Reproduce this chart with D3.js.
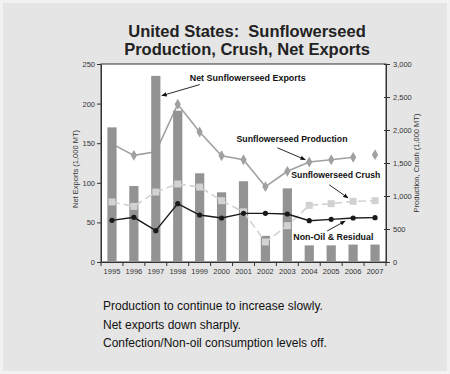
<!DOCTYPE html>
<html>
<head>
<meta charset="utf-8">
<script src="https://cdn.jsdelivr.net/npm/d3@7"></script>
<style>
  html, body { margin: 0; padding: 0; background: #f2f2f2; }
  svg { display: block; }
</style>
</head>
<body>
<svg id="chart" width="450" height="374"></svg>
<script>
// U.S. sunflowerseed balance, 1995–2007
const years = [1995, 1996, 1997, 1998, 1999, 2000, 2001, 2002, 2003, 2004, 2005, 2006, 2007];
// Net exports, 1,000 MT (left axis)
const netExports = [170, 96, 235, 191, 112, 88, 102, 33, 93, 21, 21, 22, 22];
// Production, 1,000 MT (right axis); 2007 is shown as a stand-alone point
const production = [1790, 1616, 1670, 2390, 1970, 1610, 1550, 1141, 1374, 1515, 1550, 1586, 1626];
const productionConnected = [true, true, true, true, true, true, true, true, true, true, true, true, false];
// Crush, 1,000 MT (right axis)
const crush = [910, 843, 1060, 1182, 1136, 929, 760, 303, 550, 859, 884, 919, 929];
// Non-oil & residual use, 1,000 MT (right axis)
const nonOil = [631, 677, 475, 884, 712, 667, 737, 737, 727, 626, 646, 667, 672];

const leftTicks = [0, 50, 100, 150, 200, 250];
const rightTicks = [0, 500, 1000, 1500, 2000, 2500, 3000];

const titleLines = ["United States:  Sunflowerseed", "Production, Crush, Net Exports"];
const notes = [
  "Production to continue to increase slowly.",
  "Net exports down sharply.",
  "Confection/Non-oil consumption levels off."
];

const W = 450, H = 374;
const plot = { left: 101, right: 386, top: 64, bottom: 262 };
const font = "'Liberation Sans', Arial, sans-serif";

const svg = d3.select("#chart");

// Panel background
svg.append("rect").attr("x", 3).attr("y", 3).attr("width", W - 6).attr("height", H - 6)
  .attr("fill", "#e5e5e5");

// Title
svg.append("g").selectAll("text").data(titleLines).join("text")
  .attr("x", 247).attr("y", (d, i) => 37 + i * 18)
  .attr("text-anchor", "middle")
  .style("white-space", "pre")
  .attr("font-family", font).attr("font-weight", "bold").attr("font-size", 16.5)
  .attr("fill", "#222")
  .text(d => d);

// Scales
const x = d3.scaleBand().domain(years).range([plot.left, plot.right])
  .paddingInner(0.58).paddingOuter(0.29);
const yL = d3.scaleLinear().domain([0, 250]).range([plot.bottom, plot.top]);
const yR = d3.scaleLinear().domain([0, 3000]).range([plot.bottom, plot.top]);
const cx = d => x(d) + x.bandwidth() / 2;

// Plot area
svg.append("rect").attr("x", plot.left).attr("y", plot.top)
  .attr("width", plot.right - plot.left).attr("height", plot.bottom - plot.top)
  .attr("fill", "#fff").attr("stroke", "#333").attr("stroke-width", 1);

const barGray = "#939393";
const prodGray = "#a0a0a0";

// Production line (under the bars)
const prodLine = d3.line()
  .defined((d, i) => productionConnected[i])
  .x((d, i) => cx(years[i])).y(d => yR(d));
svg.append("path").datum(production).attr("d", prodLine)
  .attr("fill", "none").attr("stroke", prodGray).attr("stroke-width", 1.6);
svg.append("g").selectAll("path").data(production).join("path")
  .attr("transform", (d, i) => `translate(${cx(years[i])},${yR(d)})`)
  .attr("d", d3.symbol(d3.symbolDiamond, 34))
  .attr("fill", prodGray);

// Net export bars
svg.append("g").selectAll("rect").data(netExports).join("rect")
  .attr("x", (d, i) => x(years[i])).attr("width", x.bandwidth())
  .attr("y", d => yL(d)).attr("height", d => yL(0) - yL(d))
  .attr("fill", barGray);

// Crush line
const crushColor = "#d2d2d2";
const line = d3.line().x((d, i) => cx(years[i])).y(d => yR(d));
svg.append("path").datum(crush).attr("d", line)
  .attr("fill", "none").attr("stroke", crushColor).attr("stroke-width", 1.6)
  .attr("stroke-dasharray", "8,4");
svg.append("g").selectAll("rect").data(crush).join("rect")
  .attr("x", (d, i) => cx(years[i]) - 3.5).attr("y", d => yR(d) - 3.5)
  .attr("width", 7).attr("height", 7).attr("fill", crushColor);

// Non-oil & residual line
svg.append("path").datum(nonOil).attr("d", line)
  .attr("fill", "none").attr("stroke", "#1a1a1a").attr("stroke-width", 1.4);
svg.append("g").selectAll("circle").data(nonOil).join("circle")
  .attr("cx", (d, i) => cx(years[i])).attr("cy", d => yR(d)).attr("r", 2.6)
  .attr("fill", "#1a1a1a");

// Axes
const axisStyle = g => {
  g.selectAll("text").attr("font-family", font).attr("font-size", 7.5).attr("fill", "#333");
  g.selectAll("line, path").attr("stroke", "#333");
};
svg.append("g").attr("transform", `translate(${plot.left},0)`)
  .call(d3.axisLeft(yL).tickValues(leftTicks).tickSize(4).tickPadding(2).tickSizeOuter(0))
  .call(axisStyle);
svg.append("g").attr("transform", `translate(${plot.right},0)`)
  .call(d3.axisRight(yR).tickValues(rightTicks).tickFormat(d3.format(",")).tickSize(4).tickPadding(3).tickSizeOuter(0))
  .call(axisStyle)
  .call(g => g.selectAll(".tick line").attr("x1", -2));
const xAxis = svg.append("g").attr("transform", `translate(0,${plot.bottom})`)
  .call(d3.axisBottom(x).tickSize(0).tickPadding(7))
  .call(axisStyle);
// category boundary ticks
const bounds = years.map(y => x(y) - (x.step() - x.bandwidth()) / 2).concat([plot.right]);
xAxis.selectAll(".bound").data(bounds).join("line").attr("class", "bound")
  .attr("x1", d => d).attr("x2", d => d).attr("y1", 0).attr("y2", 4)
  .attr("stroke", "#333");

// Axis titles
svg.append("text")
  .attr("transform", `translate(78,${(plot.top + plot.bottom) / 2 + 6}) rotate(-90)`)
  .attr("text-anchor", "middle").attr("font-family", font).attr("font-size", 7.5).attr("fill", "#333")
  .text("Net Exports (1,000 MT)");
svg.append("text")
  .attr("transform", `translate(419,${(plot.top + plot.bottom) / 2}) rotate(-90)`)
  .attr("text-anchor", "middle").attr("font-family", font).attr("font-size", 7.5).attr("fill", "#333")
  .text("Production, Crush (1,000 MT)");

// Annotations
const defs = svg.append("defs");
defs.append("marker").attr("id", "arrow").attr("viewBox", "0 0 10 10")
  .attr("refX", 9).attr("refY", 5).attr("markerWidth", 6).attr("markerHeight", 6)
  .attr("orient", "auto-start-reverse")
  .append("path").attr("d", "M0,1 L10,5 L0,9 z").attr("fill", "#111");

const annotations = [
  { text: "Net Sunflowerseed Exports", tx: cx(1998) + 12, ty: yL(229), width: 116,
    from: [cx(1998) + 22, yL(224)], to: [cx(1997) + 6, yL(210)] },
  { text: "Sunflowerseed Production", tx: cx(2001) - 7, ty: yR(1820), width: 111,
    from: [cx(2002) + 12, yR(1730)], to: [cx(2004) - 4, yR(1550)] },
  { text: "Sunflowerseed Crush", tx: cx(2003) + 4, ty: yR(1270), width: 89,
    from: [cx(2005) - 2, yR(1170)], to: [cx(2006) - 5, yR(970)] },
  { text: "Non-Oil & Residual", tx: cx(2003) + 6, ty: yR(330), width: 80,
    from: [cx(2005) - 4, yR(470)], to: [cx(2006) - 8, yR(620)] }
];
const ann = svg.append("g");
ann.selectAll("text").data(annotations).join("text")
  .attr("x", d => d.tx).attr("y", d => d.ty)
  .attr("textLength", d => d.width).attr("lengthAdjust", "spacingAndGlyphs")
  .attr("font-family", font).attr("font-weight", "bold").attr("font-size", 9).attr("fill", "#111")
  .text(d => d.text);
ann.selectAll("line").data(annotations).join("line")
  .attr("x1", d => d.from[0]).attr("y1", d => d.from[1])
  .attr("x2", d => d.to[0]).attr("y2", d => d.to[1])
  .attr("stroke", "#111").attr("stroke-width", 0.9).attr("marker-end", "url(#arrow)");

// Notes
svg.append("g").selectAll("text").data(notes).join("text")
  .attr("x", 103).attr("y", (d, i) => 310 + i * 18.5)
  .attr("font-family", font).attr("font-size", 12).attr("fill", "#111")
  .text(d => d);
</script>
</body>
</html>
